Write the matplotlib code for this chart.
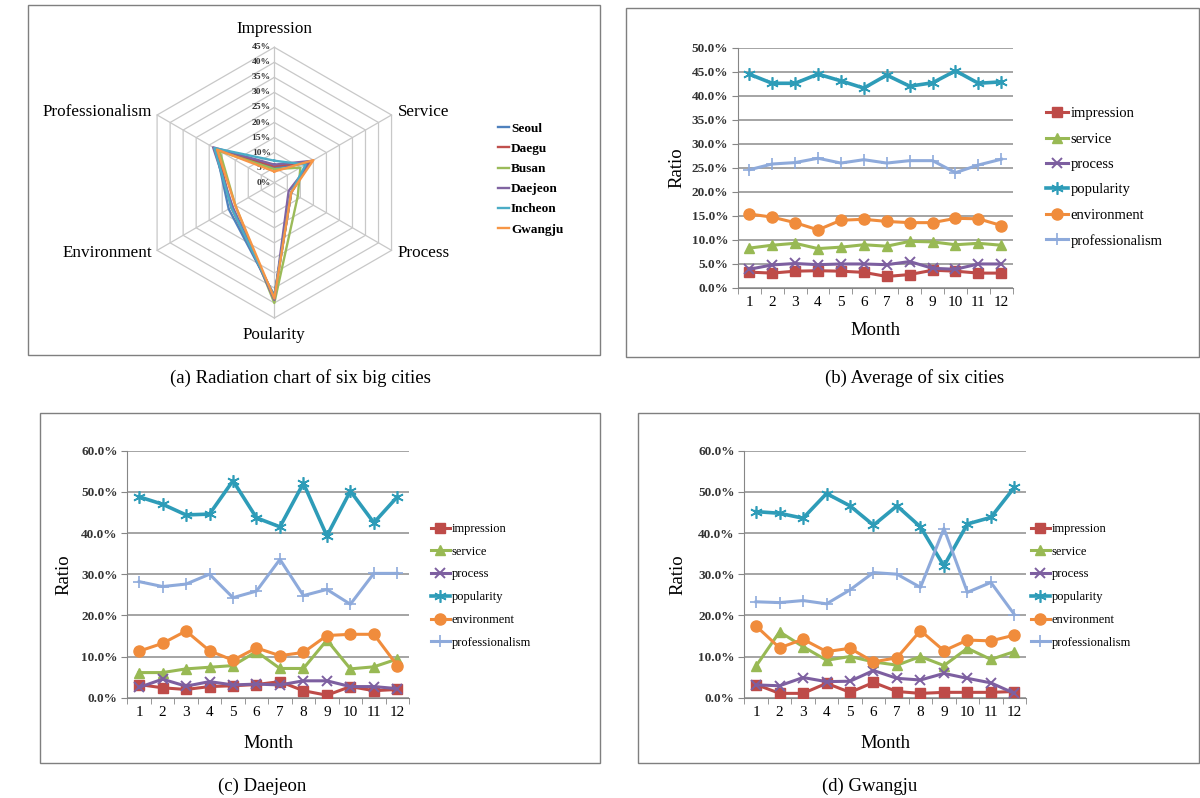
import numpy as np
import matplotlib.pyplot as plt
from matplotlib.patches import Rectangle
from matplotlib.ticker import FuncFormatter

plt.rcParams['font.family'] = ['Liberation Serif', 'DejaVu Serif']

# radar: share of each factor per city (%)
radar_axes = ['Impression', 'Service', 'Process', 'Poularity', 'Environment', 'Professionalism']
cities = ['Seoul', 'Daegu', 'Busan', 'Daejeon', 'Incheon', 'Gwangju']
seoul = [5.0, 13.0, 6.5, 37.5, 17.5, 22.5]
daegu = [5.5, 14.0, 6.5, 38.0, 16.5, 22.0]
busan = [4.5, 10.0, 9.0, 40.0, 15.0, 21.0]
daejeon_r = [6.0, 14.5, 5.5, 39.0, 16.0, 23.5]
incheon = [7.3, 12.0, 6.5, 38.0, 16.5, 23.0]
gwangju_r = [3.7, 15.0, 6.5, 38.5, 15.0, 22.0]
radar_ticks = [0, 5, 10, 15, 20, 25, 30, 35, 40, 45]

months = list(range(1, 13))
series = ['impression', 'service', 'process', 'popularity', 'environment', 'professionalism']

# average of six cities (%)
avg_impression = [3.3, 3.1, 3.5, 3.6, 3.5, 3.25, 2.4, 2.8, 3.7, 3.5, 3.1, 3.1]
avg_service = [8.3, 8.9, 9.3, 8.2, 8.5, 9.0, 8.7, 9.7, 9.6, 9.0, 9.3, 8.9]
avg_process = [3.9, 4.8, 5.1, 4.85, 5.0, 5.0, 4.85, 5.5, 4.1, 3.9, 5.0, 5.0]
avg_popularity = [44.5, 42.6, 42.6, 44.5, 43.1, 41.6, 44.3, 42.0, 42.7, 45.2, 42.6, 42.9]
avg_environment = [15.4, 14.75, 13.6, 12.1, 14.1, 14.3, 13.85, 13.6, 13.6, 14.5, 14.4, 13.0]
avg_professionalism = [24.6, 25.8, 26.1, 27.0, 26.0, 26.7, 26.0, 26.5, 26.5, 24.0, 25.6, 26.8]

# Daejeon (%)
dj_impression = [3.2, 2.4, 2.0, 2.7, 2.9, 3.2, 3.9, 1.7, 0.6, 2.7, 1.7, 2.0]
dj_service = [6.1, 6.1, 7.0, 7.4, 7.8, 11.2, 7.1, 7.1, 14.0, 7.0, 7.5, 9.4]
dj_process = [2.5, 4.5, 2.8, 3.9, 3.1, 3.3, 3.1, 4.1, 4.1, 2.7, 2.7, 2.2]
dj_popularity = [48.8, 47.0, 44.4, 44.6, 52.7, 43.7, 41.5, 52.1, 39.3, 50.2, 42.5, 48.8]
dj_environment = [11.3, 13.2, 16.2, 11.4, 9.1, 12.1, 10.2, 11.0, 15.1, 15.4, 15.4, 7.8]
dj_professionalism = [28.2, 27.0, 27.6, 30.0, 24.3, 25.9, 33.6, 24.8, 26.3, 22.7, 30.2, 30.2]

# Gwangju (%)
gj_impression = [3.2, 1.05, 1.05, 3.5, 1.3, 3.7, 1.5, 1.05, 1.3, 1.3, 1.3, 1.5]
gj_service = [7.7, 16.0, 12.4, 9.1, 10.0, 8.7, 7.9, 10.0, 7.8, 12.0, 9.3, 11.2]
gj_process = [3.1, 2.9, 4.9, 3.9, 4.0, 6.6, 4.7, 4.3, 5.9, 4.7, 3.6, 1.05]
gj_popularity = [45.2, 44.8, 43.6, 49.6, 46.6, 41.9, 46.6, 41.5, 32.0, 42.2, 43.8, 51.1]
gj_environment = [17.4, 12.1, 14.2, 11.2, 12.0, 8.7, 9.7, 16.3, 11.4, 14.0, 13.8, 15.2]
gj_professionalism = [23.3, 23.1, 23.6, 22.8, 26.2, 30.4, 30.0, 26.8, 41.1, 25.6, 28.0, 20.2]

city_colors = ['#4F81BD', '#C0504D', '#9BBB59', '#8064A2', '#4BACC6', '#F79646']
line_styles = [
    dict(color='#BE4B48', marker='s', ms=7, lw=2.2),
    dict(color='#98B954', marker='^', ms=7.5, lw=2.2),
    dict(color='#7D5FA0', marker='x', ms=7, mew=1.4, lw=2.2),
    dict(color='#2E9CB8', marker=(6, 2, 0), ms=9, mew=1.2, lw=2.6),
    dict(color='#F08C3C', marker='o', ms=8, lw=2.2),
    dict(color='#8EAADB', marker='+', ms=8, mew=1.2, lw=2.2),
]

fig = plt.figure(figsize=(12, 7.98), dpi=100)

# frames around the four panels
for x0, y0, w, h in [(0.0233, 0.5551, 0.4767, 0.4386), (0.5217, 0.5526, 0.4775, 0.4373),
                     (0.0333, 0.0439, 0.4667, 0.4386), (0.5317, 0.0439, 0.4675, 0.4386)]:
    fig.patches.append(Rectangle((x0, y0), w, h, transform=fig.transFigure,
                                 fill=False, ec='#7F7F7F', lw=1))

# ---- (a) radar chart ----
ax = fig.add_axes([0.0782, 0.5449, 0.3008, 0.4524])
ax.set_xlim(-0.6, 0.6)
ax.set_ylim(-0.6, 0.6)
ax.set_aspect('equal')
ax.axis('off')
theta = np.deg2rad(np.arange(6) * 60)
closed = np.append(theta, theta[0])
for t in radar_ticks[1:]:
    r = t / 100
    ax.plot(r * np.sin(closed), r * np.cos(closed), color='#C8C8C8', lw=0.9, zorder=1)
rmax = radar_ticks[-1] / 100
for th in theta:
    ax.plot([0, rmax * np.sin(th)], [0, rmax * np.cos(th)], color='#C8C8C8', lw=0.9, zorder=1)
for t in radar_ticks:
    ax.text(-0.012, t / 100, f'{t}%', ha='right', va='center', fontsize=6.8,
            fontweight='bold', color='#333333')
for vals, name, c in zip([seoul, daegu, busan, daejeon_r, incheon, gwangju_r], cities, city_colors):
    v = np.array(vals + vals[:1]) / 100
    ax.plot(v * np.sin(closed), v * np.cos(closed), color=c, lw=1.7, label=name, zorder=3)
label_pos = [(0, 0.51, 'center'), (0.411, 0.235, 'left'), (0.411, -0.234, 'left'),
             (0, -0.506, 'center'), (-0.407, -0.234, 'right'), (-0.407, 0.235, 'right')]
for name, (lx, ly, ha) in zip(radar_axes, label_pos):
    ax.text(lx, ly, name, ha=ha, va='center', fontsize=12.3)
ax.legend(loc='upper left', bbox_to_anchor=(0.411, 0.853), bbox_transform=fig.transFigure,
          frameon=False, handlelength=0.8, handletextpad=0.15, labelspacing=0.6,
          prop=dict(size=9.5, weight='bold'), borderaxespad=0)


def line_panel(rect, data, ymax, fmt_ticks, legend_xy, legend_size, legend_space, label_pad):
    ax = fig.add_axes(rect)
    for vals, name, st in zip(data, series, line_styles):
        ax.plot(months, np.array(vals) / 100, label=name, zorder=3, **st)
    ax.set_xlim(0.5, 12.5)
    ax.set_ylim(0, ymax / 100)
    ax.set_yticks(np.array(fmt_ticks) / 100)
    ax.yaxis.set_major_formatter(FuncFormatter(lambda v, p: f'{v * 100:.1f}%'))
    ax.set_xticks(months)
    ax.set_xticks(np.arange(0.5, 13, 1), minor=True)
    ax.tick_params(axis='x', which='major', length=0, labelsize=11, pad=6)
    ax.tick_params(axis='x', which='minor', length=4, color='#868686')
    ax.tick_params(axis='y', length=4, color='#868686', labelsize=9.5, pad=3)
    for lab in ax.get_yticklabels():
        lab.set_fontweight('bold')
        lab.set_color('#333333')
    ax.grid(axis='y', color='#8C8C8C', lw=1.1, zorder=0)
    for s in ['top', 'right']:
        ax.spines[s].set_visible(False)
    for s in ['left', 'bottom']:
        ax.spines[s].set_color('#868686')
    ax.set_xlabel('Month', fontsize=13.5)
    ax.set_ylabel('Ratio', fontsize=13.5)
    ax.xaxis.set_label_coords(0.5, label_pad[1])
    ax.yaxis.set_label_coords(label_pad[0], 0.5)
    ax.legend(loc='upper left', bbox_to_anchor=legend_xy, bbox_transform=fig.transFigure,
              frameon=False, handlelength=1.5, handletextpad=0.15, labelspacing=legend_space,
              prop=dict(size=legend_size), borderaxespad=0)
    return ax


line_panel([0.6148, 0.6391, 0.2292, 0.3011],
           [avg_impression, avg_service, avg_process, avg_popularity, avg_environment, avg_professionalism],
           50, [0, 5, 10, 15, 20, 25, 30, 35, 40, 45, 50], (0.867, 0.873), 10.5, 0.83, (-0.19, -0.14))
line_panel([0.1061, 0.1257, 0.2348, 0.3095],
           [dj_impression, dj_service, dj_process, dj_popularity, dj_environment, dj_professionalism],
           60, [0, 10, 20, 30, 40, 50, 60], (0.355, 0.351), 9, 0.86, (-0.195, -0.15))
line_panel([0.6203, 0.1257, 0.2348, 0.3095],
           [gj_impression, gj_service, gj_process, gj_popularity, gj_environment, gj_professionalism],
           60, [0, 10, 20, 30, 40, 50, 60], (0.855, 0.351), 9, 0.86, (-0.205, -0.15))

captions = [(0.25, 1 - 378 / 798, '(a) Radiation chart of six big cities'),
            (0.7625, 1 - 378 / 798, '(b) Average of six cities'),
            (0.2183, 1 - 786 / 798, '(c) Daejeon'),
            (0.725, 1 - 786 / 798, '(d) Gwangju')]
for x, y, s in captions:
    fig.text(x, y, s, ha='center', va='center', fontsize=13.5)

fig.savefig('out.png', dpi=100)
